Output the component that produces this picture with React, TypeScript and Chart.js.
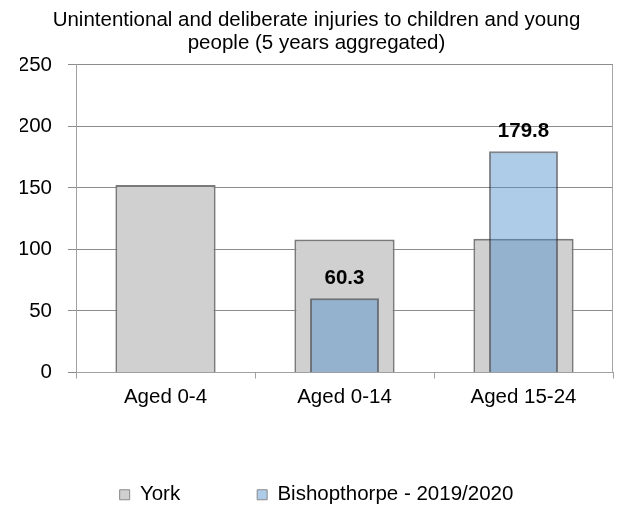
import React, { useEffect, useRef } from "react";
import { Chart, registerables } from "chart.js";

Chart.register(...registerables);

const titleLines = [
  "Unintentional and deliberate injuries to children and young",
  "people (5 years aggregated)",
];
const categories = ["Aged 0-4", "Aged 0-14", "Aged 15-24"];
const yorkLabel = "York";
const bishopLabel = "Bishopthorpe - 2019/2020";
const yorkValues = [152.4, 108.1, 108.7];
const bishopValues: (number | null)[] = [null, 60.3, 179.8];
const yMin = 0;
const yMax = 250;
const yStep = 50;

const FONT = "'Liberation Sans', Arial, sans-serif";
const FS = 20.5;

export default function App() {
  const ref = useRef<HTMLCanvasElement | null>(null);

  useEffect(() => {
    if (!ref.current) return;

    const framePlugin = {
      id: "frame",
      beforeDatasetsDraw(chart: any) {
        const { ctx, chartArea } = chart;
        ctx.save();
        ctx.strokeStyle = "#a6a6a6";
        ctx.lineWidth = 1;
        ctx.beginPath();
        ctx.moveTo(Math.round(chartArea.right) - 0.5, chartArea.top);
        ctx.lineTo(Math.round(chartArea.right) - 0.5, chartArea.bottom);
        ctx.stroke();
        ctx.restore();
      },
    };

    const labelPlugin = {
      id: "valueLabels",
      afterDatasetsDraw(chart: any) {
        const { ctx } = chart;
        const meta = chart.getDatasetMeta(1);
        ctx.save();
        ctx.font = `bold ${FS}px ${FONT}`;
        ctx.fillStyle = "#000";
        ctx.textAlign = "center";
        ctx.textBaseline = "middle";
        meta.data.forEach((bar: any, i: number) => {
          const v = bishopValues[i];
          if (v == null) return;
          ctx.fillText(v.toFixed(1), bar.x, bar.y - 20);
        });
        ctx.restore();
      },
    };

    const chart = new Chart(ref.current, {
      type: "bar",
      data: {
        labels: categories,
        datasets: [
          {
            label: yorkLabel,
            data: yorkValues,
            backgroundColor: "#d0d0d0",
            borderColor: "#7a7a7a",
            borderWidth: 2,
            barPercentage: 0.56,
            categoryPercentage: 1,
            grouped: false,
            order: 1,
          },
          {
            label: bishopLabel,
            data: bishopValues,
            backgroundColor: "rgba(75,140,204,0.45)",
            borderColor: "rgba(40,50,60,0.6)",
            borderWidth: 2,
            barPercentage: 0.385,
            categoryPercentage: 1,
            grouped: false,
            order: 0,
          },
        ] as any,
      },
      options: {
        animation: false,
        responsive: true,
        maintainAspectRatio: false,
        layout: { padding: { left: 20, right: 4, top: 0, bottom: 0 } },
        plugins: {
          tooltip: { enabled: false },
          title: {
            display: true,
            text: titleLines,
            color: "#000",
            font: { family: FONT, size: FS, weight: "normal", lineHeight: 1.12 },
            padding: { top: 9, bottom: 10 },
          },
          legend: {
            position: "bottom",
            labels: {
              color: "#000",
              font: { family: FONT, size: FS },
              boxWidth: 10,
              boxHeight: 10,
              padding: 77,
              sort: (a: any, b: any) => a.datasetIndex - b.datasetIndex,
              generateLabels: (c: any) =>
                (Chart.defaults.plugins.legend.labels as any)
                  .generateLabels(c)
                  .map((l: any) => ({ ...l, lineWidth: 1, strokeStyle: "#8a8a8a" })),
            },
          },
        },
        scales: {
          x: {
            grid: {
              offset: true,
              drawOnChartArea: false,
              drawTicks: true,
              tickLength: 6,
              color: "#a0a0a0",
            },
            border: { display: true, color: "#a0a0a0" },
            ticks: {
              color: "#000",
              font: { family: FONT, size: FS },
              padding: 7,
            },
            afterFit: (s: any) => {
              s.height = 35;
            },
          },
          y: {
            min: yMin,
            max: yMax,
            ticks: {
              stepSize: yStep,
              color: "#000",
              font: { family: FONT, size: FS },
              padding: 16,
            },
            grid: {
              color: "#8c8c8c",
              tickLength: 8,
              drawTicks: true,
            },
            border: { display: true, color: "#a0a0a0" },
            afterFit: (s: any) => {
              s.width = 56;
            },
          },
        },
      },
      plugins: [framePlugin, labelPlugin],
    });

    return () => chart.destroy();
  }, []);

  return (
    <div style={{ position: "absolute", left: 0, top: 0, width: 617, height: 515, background: "#fff" }}>
      <canvas ref={ref} />
    </div>
  );
}
